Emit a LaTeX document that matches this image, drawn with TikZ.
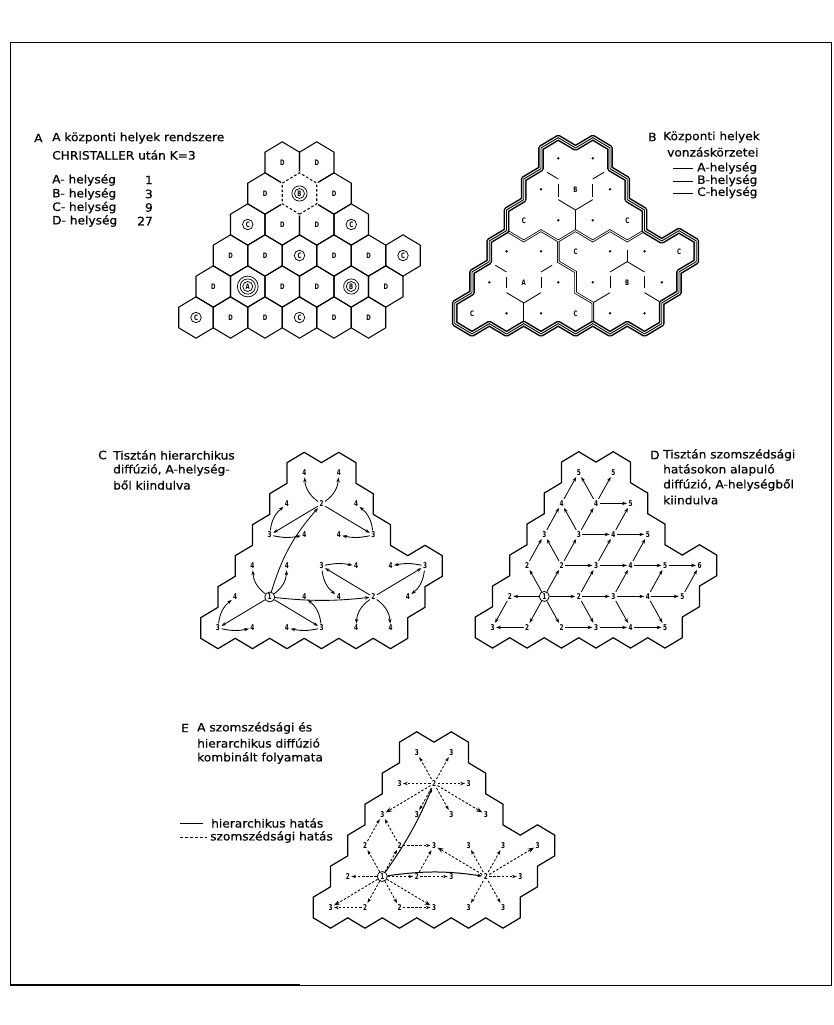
\documentclass[tikz,border=0pt]{standalone}
\usepackage{fontspec}
\setmainfont{DejaVu Sans}[FakeStretch=1.06,FakeBold=0.5]
\newfontfamily\digfont{DejaVu Sans}[FakeStretch=0.72]
\usetikzlibrary{arrows.meta,calc}
\tikzset{
  captx/.style={font=\fontsize{11.5}{13}\selectfont, anchor=west, inner sep=0pt},
  numtx/.style={font=\digfont\bfseries\fontsize{8}{8}\selectfont, inner sep=1.3pt},
  onetx/.style={font=\digfont\bfseries\fontsize{8}{8}\selectfont, circle, draw, line width=0.8pt, inner sep=0pt, minimum size=10pt},
  lettx/.style={font=\digfont\bfseries\fontsize{7.5}{7.5}\selectfont, inner sep=0.5pt},
  cirtx/.style={lettx, circle, draw, line width=0.75pt, minimum size=10.5pt},
  dotnode/.style={circle, fill, inner sep=0pt, minimum size=2.6pt},
  arr/.style={line width=0.85pt, -{Stealth[length=4.8pt,width=3.4pt]}},
  darr/.style={arr, dash pattern=on 2.4pt off 1.7pt},
  darrL/.style={line width=0.9pt, dash pattern=on 2.4pt off 1.7pt, -{Stealth[length=6pt,width=4.5pt]}},
  hexl/.style={line width=1.05pt, line join=miter},
  outl/.style={line width=1.2pt, line join=miter},
  sline/.style={line width=0.85pt},
  dblk/.style={line width=2.5pt},
  dblw/.style={white, line width=0.9pt}
}
\def\allcells{1/5,1/7,2/4,2/6,2/8,3/3,3/5,3/7,3/9,4/2,4/4,4/6,4/8,4/10,4/12,5/1,5/3,5/5,5/7,5/9,5/11,6/0,6/2,6/4,6/6,6/8,6/10}
\def\dcells{1/5,1/7,2/4,2/8,3/5,3/7,4/2,4/4,4/8,4/10,5/1,5/5,5/7,5/11,6/2,6/4,6/8,6/10}
\def\ccells{3/3,3/9,4/6,4/12,6/0,6/6}
\def\olist{6/-1,7/-2,8/-1,8/1,9/2,9/4,10/5,10/7,11/8,12/7,13/8,13/10,12/11,12/13,11/14,11/16,10/17,9/16,8/17,7/16,6/17,5/16,4/17,3/16,2/17,1/16,0/17,-1/16,-1/14,0/13,0/11,1/10,1/8,2/7,2/5,3/4,3/2,4/1,4/-1}
\newcommand\hexdraw[2]{\draw[#1,shift={(#2)}] (0,-20.67) -- (17.25,-10.33) -- (17.25,10.33) -- (0,20.67) -- (-17.25,10.33) -- (-17.25,-10.33) -- cycle;}
\newcommand\hexoutline[3]{\draw[#3] ({#1+86.25},{-(#2-20.67)}) \foreach \c/\m in \olist {-- ({#1+17.25*\c},{-(#2+10.333*\m)})} -- cycle;}
\newcommand\bseg[7]{\draw[#1] ({472+17.25*((#2)+(#6)*((#4)-(#2)))},{-(158.3+10.333*((#3)+(#6)*((#5)-(#3))))}) -- ({472+17.25*((#2)+(#7)*((#4)-(#2)))},{-(158.3+10.333*((#3)+(#7)*((#5)-(#3))))});}
\begin{document}
\begin{tikzpicture}[x=1pt,y=1pt]
\useasboundingbox (0,0) rectangle (834,-1025);
\draw[line width=0.8pt] (10,-42) rectangle (831,-985);
\draw[line width=2pt] (10,-985) -- (300,-985);

% ---------------- Panel A ----------------
\node[captx] (capA0) at (34,-138) {A};
\node[captx] (capA1) at (52,-138) {A központi helyek rendszere};
\node[captx] (capA2) at (52,-155) {CHRISTALLER után K=3};
\node[captx] (lgA1) at (52,-180) {A- helység};
\node[captx] (lgA2) at (52,-194) {B- helység};
\node[captx] (lgA3) at (52,-207.5) {C- helység};
\node[captx] (lgA4) at (52,-221) {D- helység};
\node[captx,anchor=east] (lgA1n) at (153,-180) {1};
\node[captx,anchor=east] (lgA2n) at (153,-194) {3};
\node[captx,anchor=east] (lgA3n) at (153,-207.5) {9};
\node[captx,anchor=east] (lgA4n) at (153,-221) {27};

\foreach \r/\k in \allcells {\coordinate (pA-\r-\k) at ({196+17.25*\k},{-(162.5+31*(\r-1))});}
\foreach \r/\k in \allcells {\hexdraw{hexl}{pA-\r-\k}}
\hexdraw{white,line width=2.6pt}{pA-2-6}
\hexdraw{hexl,dash pattern=on 2.6pt off 2pt}{pA-2-6}
\foreach \r/\k in \dcells {\node[lettx] (A-\r-\k) at (pA-\r-\k) {D};}
\foreach \r/\k in \ccells {\node[cirtx] (A-\r-\k) at (pA-\r-\k) {C};}
\foreach \r/\k in {2/6,5/9} {\node[cirtx,minimum size=10pt] (A-\r-\k) at (pA-\r-\k) {B};
  \draw[line width=0.75pt] (pA-\r-\k) circle (7.6);}
\node[cirtx,minimum size=10pt] (A-5-3) at (pA-5-3) {A};
\draw[line width=0.75pt] (pA-5-3) circle (7.6);
\draw[line width=0.75pt] (pA-5-3) circle (10.4);

% ---------------- Panel B ----------------
\node[captx] (capB0) at (648,-137) {B};
\node[captx] (capB1) at (663,-137) {Központi helyek};
\node[captx] (capB2) at (667,-152) {vonzáskörzetei};
\node[captx] (lgB1) at (697,-168) {A-helység};
\node[captx] (lgB2) at (697,-180.5) {B-helység};
\node[captx] (lgB3) at (697,-192.5) {C-helység};
\draw[line width=1.2pt] (673,-168.5) -- (693,-168.5);
\draw[line width=1pt] (673,-181) -- (693,-181);
\draw[line width=0.8pt] (673,-193) -- (693,-193);

\foreach \r/\k in \allcells {\coordinate (pB-\r-\k) at ({472+17.25*\k},{-(158.3+31*(\r-1))});}
% single lines (C-level)
\bseg{sline}{4}{1}{5}{2}{0.35}{1}
\bseg{sline}{5}{2}{5}{4}{0.25}{0.85}
\bseg{sline}{5}{4}{6}{5}{0}{1}
\bseg{sline}{6}{5}{7}{4}{0}{1}
\bseg{sline}{7}{4}{7}{2}{0.15}{0.75}
\bseg{sline}{7}{2}{8}{1}{0}{0.65}
\bseg{sline}{6}{5}{6}{7}{0}{1}
\bseg{sline}{1}{10}{2}{11}{0.35}{1}
\bseg{sline}{2}{11}{2}{13}{0.25}{0.8}
\bseg{sline}{2}{13}{3}{14}{0}{1}
\bseg{sline}{3}{14}{4}{13}{0}{1}
\bseg{sline}{4}{13}{4}{11}{0.2}{0.75}
\bseg{sline}{4}{11}{5}{10}{0}{0.65}
\bseg{sline}{3}{14}{3}{16}{0}{1}
\bseg{sline}{9}{10}{9}{8}{0}{0.55}
\bseg{sline}{8}{11}{9}{10}{0}{1}
\bseg{sline}{9}{10}{10}{11}{0}{1}
\bseg{sline}{8}{11}{8}{13}{0.2}{0.8}
\bseg{sline}{10}{11}{10}{13}{0.2}{0.8}
\bseg{sline}{8}{13}{7}{14}{0}{1}
\bseg{sline}{10}{13}{11}{14}{0}{1}
% double lines (B-level)
\foreach \s in {dblk,dblw}{
 \draw[\s,line join=miter] (506.5,-230.63) -- (523.75,-240.96) -- (541,-230.63) -- (558.25,-240.96) -- (575.5,-230.63) -- (592.75,-240.96) -- (610,-230.63) -- (627.25,-240.96) -- (644.5,-230.63);
 \draw[\s,line join=miter] (558.25,-240.96) -- (558.25,-261.63) -- (575.5,-271.96) -- (575.5,-292.63) -- (592.75,-302.96) -- (592.75,-323.63);
}
% triple outline (A-level)
\hexoutline{472}{158.3}{line width=5.8pt,line join=round}
\hexoutline{472}{158.3}{white,line width=2.8pt,line join=round}
\hexoutline{472}{158.3}{line width=0.9pt,line join=round}
\foreach \r/\k in \dcells {\node[dotnode] (B-\r-\k) at (pB-\r-\k) {};}
\foreach \r/\k in \ccells {\node[lettx] (B-\r-\k) at (pB-\r-\k) {C};}
\foreach \r/\k in {2/6,5/9} {\node[lettx] (B-\r-\k) at (pB-\r-\k) {B};}
\node[lettx] (B-5-3) at (pB-5-3) {A};

% ---------------- Panel C ----------------
\node[captx] (capC0) at (98,-455) {C};
\node[captx] (capC1) at (113,-455) {Tisztán hierarchikus};
\node[captx] (capC2) at (113,-470) {diffúzió, A-helység-};
\node[captx] (capC3) at (113,-485) {ből kiindulva};
\hexoutline{218}{473}{outl}
\foreach \r/\k in \dcells {\node[numtx] (C-\r-\k) at ({218+17.25*\k},{-(473+31*(\r-1))}) {4};}
\foreach \r/\k in \ccells {\node[numtx] (C-\r-\k) at ({218+17.25*\k},{-(473+31*(\r-1))}) {3};}
\foreach \r/\k in {2/6,5/9} {\node[numtx] (C-\r-\k) at ({218+17.25*\k},{-(473+31*(\r-1))}) {2};}
\node[onetx] (C-5-3) at ({218+17.25*3},{-(473+124)}) {1};
\draw[arr] (C-5-3) to[bend left=12] (C-2-6);
\draw[arr] (C-5-3) to[bend right=6] (C-5-9);
\draw[arr] (C-5-3) -- (C-6-0);
\draw[arr] (C-5-3) -- (C-6-6);
\draw[arr] (C-5-3) to[bend left=25] (C-4-2);
\draw[arr] (C-5-3) to[bend right=25] (C-4-4);
\draw[arr] (C-6-0) to[bend right=12] (C-6-2);
\draw[arr] (C-6-0) to[bend left=22] (C-5-1);
\draw[arr] (C-6-6) to[bend left=12] (C-6-4);
\draw[arr] (C-6-6) to[bend right=22] (C-5-5);
\draw[arr] (C-2-6) to[bend left=25] (C-1-5);
\draw[arr] (C-2-6) to[bend right=25] (C-1-7);
\draw[arr] (C-2-6) -- (C-3-3);
\draw[arr] (C-2-6) -- (C-3-9);
\draw[arr] (C-3-3) to[bend right=12] (C-3-5);
\draw[arr] (C-3-3) to[bend left=22] (C-2-4);
\draw[arr] (C-3-9) to[bend left=12] (C-3-7);
\draw[arr] (C-3-9) to[bend right=22] (C-2-8);
\draw[arr] (C-5-9) -- (C-4-6);
\draw[arr] (C-5-9) -- (C-4-12);
\draw[arr] (C-4-6) to[bend left=12] (C-4-8);
\draw[arr] (C-4-6) to[bend right=22] (C-5-7);
\draw[arr] (C-4-12) to[bend right=12] (C-4-10);
\draw[arr] (C-4-12) to[bend left=22] (C-5-11);
\draw[arr] (C-5-9) to[bend right=25] (C-6-8);
\draw[arr] (C-5-9) to[bend left=25] (C-6-10);

% ---------------- Panel D ----------------
\node[captx] (capD0) at (650,-455) {D};
\node[captx] (capD1) at (663,-455) {Tisztán szomszédsági};
\node[captx] (capD2) at (663,-470) {hatásokon alapuló};
\node[captx] (capD3) at (663,-485) {diffúzió, A-helységből};
\node[captx] (capD4) at (663,-500) {kiindulva};
\hexoutline{492.5}{472.4}{outl}
\foreach \r/\k/\v in {1/5/5,1/7/5,2/4/4,2/6/4,2/8/5,3/3/3,3/5/3,3/7/4,3/9/5,4/2/2,4/4/2,4/6/3,4/8/4,4/10/5,4/12/6,5/1/2,5/5/2,5/7/3,5/9/4,5/11/5,6/0/3,6/2/2,6/4/2,6/6/3,6/8/4,6/10/5}
  {\node[numtx] (D-\r-\k) at ({492.5+17.25*\k},{-(472.4+31*(\r-1))}) {\v};}
\node[onetx] (D-5-3) at ({492.5+17.25*3},{-(472.4+124)}) {1};
\foreach \a/\b in {5-3/5-1,5-3/5-5,5-3/4-2,5-3/4-4,5-3/6-2,5-3/6-4,
  5-1/6-0,6-2/6-0,6-4/6-6,6-6/6-8,6-8/6-10,5-5/5-7,5-7/5-9,5-9/5-11,
  4-4/4-6,4-6/4-8,4-8/4-10,4-10/4-12,3-5/3-7,3-7/3-9,2-6/2-8,
  5-5/6-6,5-7/6-8,5-9/6-10,5-5/4-6,5-7/4-8,5-9/4-10,5-11/4-12,
  4-2/3-3,4-4/3-3,4-4/3-5,4-6/3-7,4-8/3-9,
  3-3/2-4,3-5/2-4,3-5/2-6,3-7/2-8,2-4/1-5,2-6/1-5,2-6/1-7}
  {\draw[arr] (D-\a) -- (D-\b);}

% ---------------- Panel E ----------------
\node[captx] (capE0) at (181,-728) {E};
\node[captx] (capE1) at (197,-728) {A szomszédsági és};
\node[captx] (capE2) at (197,-743) {hierarchikus diffúzió};
\node[captx] (capE3) at (197,-758) {kombinált folyamata};
\draw[line width=1pt] (180,-823) -- (203,-823);
\node[captx] (lgE1) at (211,-823) {hierarchikus hatás};
\draw[line width=1pt, dash pattern=on 3pt off 2pt] (180,-837) -- (207,-837);
\node[captx] (lgE2) at (210,-837) {szomszédsági hatás};
\hexoutline{330.5}{752.5}{outl}
\foreach \r/\k/\v in {1/5/3,1/7/3,2/4/3,2/6/2,2/8/3,3/3/3,3/5/3,3/7/3,3/9/3,4/2/2,4/4/2,4/6/3,4/8/3,4/10/3,4/12/3,5/1/2,5/5/2,5/7/3,5/9/2,5/11/3,6/0/3,6/2/2,6/4/2,6/6/3,6/8/3,6/10/3}
  {\node[numtx] (E-\r-\k) at ({330.5+17.25*\k},{-(752.5+31*(\r-1))}) {\v};}
\node[onetx] (E-5-3) at ({330.5+17.25*3},{-(752.5+124)}) {1};
\draw[arr,line width=1pt] (E-5-3) to[bend right=6] (E-2-6);
\draw[arr,line width=1pt] (E-5-3) to[bend left=8] (E-5-9);
\foreach \b in {4-2,4-4,5-1,5-5,6-2,6-4} {\draw[darr] (E-5-3) -- (E-\b);}
\foreach \b in {6-0,6-6} {\draw[darrL] (E-5-3) -- (E-\b);}
\foreach \b in {1-5,1-7,2-4,2-8,3-5,3-7} {\draw[darr] (E-2-6) -- (E-\b);}
\foreach \b in {3-3,3-9} {\draw[darrL] (E-2-6) -- (E-\b);}
\foreach \b in {4-8,4-10,5-11,6-8,6-10} {\draw[darr] (E-5-9) -- (E-\b);}
\foreach \b in {4-6,4-12} {\draw[darrL] (E-5-9) -- (E-\b);}
\foreach \a/\b in {6-2/6-0,6-4/6-6,4-4/4-6,5-5/5-7,5-5/4-6,4-2/3-3,4-4/3-3} {\draw[darr] (E-\a) -- (E-\b);}
\end{tikzpicture}
\end{document}
